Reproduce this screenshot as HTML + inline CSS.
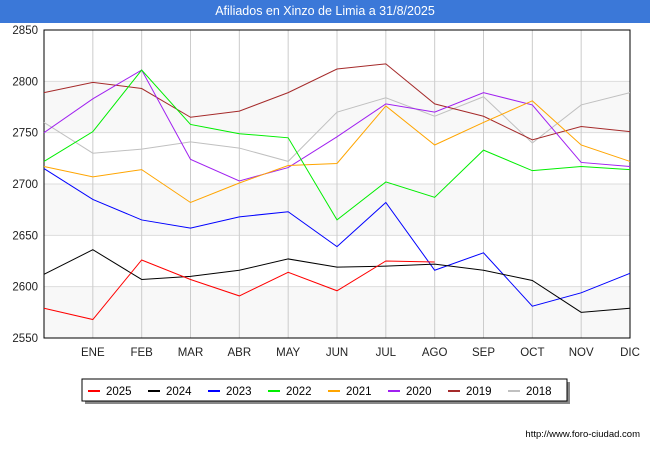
<!DOCTYPE html>
<html><head><meta charset="utf-8"><style>
body{margin:0;background:#fff;font-family:"Liberation Sans",sans-serif}
#t{position:absolute;left:0;top:0;width:650px;height:23px;background:#3b78d8;color:#fff;font-size:12.5px;text-align:center;line-height:23px}
</style></head><body>
<div id="t">Afiliados en Xinzo de Limia a 31/8/2025</div>
<svg id="c" width="650" height="450" style="position:absolute;left:0;top:0"></svg>
<script>
const months=["","ENE","FEB","MAR","ABR","MAY","JUN","JUL","AGO","SEP","OCT","NOV","DIC"];
const yTicks=[2550,2600,2650,2700,2750,2800,2850];
const seriesNames=["2025","2024","2023","2022","2021","2020","2019","2018"];
const seriesColors=["#ff0000","#000000","#0000ff","#00ee00","#ffa500","#a020f0","#a52a2a","#c0c0c0"];
const s2025=[2579,2568,2626,2607,2591,2614,2596,2625,2624];
const s2024=[2612,2636,2607,2610,2616,2627,2619,2620,2622,2616,2606,2575,2579];
const s2023=[2715,2685,2665,2657,2668,2673,2639,2682,2616,2633,2581,2594,2613];
const s2022=[2722,2751,2811,2758,2749,2745,2665,2702,2687,2733,2713,2717,2714];
const s2021=[2717,2707,2714,2682,2701,2718,2720,2776,2738,2760,2781,2738,2722];
const s2020=[2750,2783,2811,2724,2703,2716,2746,2778,2770,2789,2777,2721,2717];
const s2019=[2789,2799,2793,2765,2771,2789,2812,2817,2778,2766,2743,2756,2751];
const s2018=[2760,2730,2734,2741,2735,2722,2770,2784,2766,2785,2740,2777,2789];
const allSeries=[s2025,s2024,s2023,s2022,s2021,s2020,s2019,s2018];
const L=44,R=630,T=30,B=338,ymin=2550,ymax=2850;
const X=i=>L+(R-L)*i/(months.length-1);
const Y=v=>B-(v-ymin)/(ymax-ymin)*(B-T);
const svg=document.getElementById('c');const NS="http://www.w3.org/2000/svg";
function mk(tag,a,p){const e=document.createElementNS(NS,tag);for(const k in a)e.setAttribute(k,a[k]);(p||svg).appendChild(e);return e;}
for(let i=0;i<yTicks.length-1;i++){if(i%2==0){const r=mk('rect',{x:L,y:Y(yTicks[i+1]),width:R-L,height:Y(yTicks[i])-Y(yTicks[i+1]),fill:'#f8f8f8'});}}
yTicks.forEach(v=>{const l=mk('line',{x1:L,x2:R,y1:Y(v),y2:Y(v),stroke:'#dddddd'});
const t=mk('text',{x:L-6,y:Y(v)+4,'text-anchor':'end','font-size':11.5,fill:'#222'});t.textContent=v;});
months.forEach((m,i)=>{if(i>0){const l=mk('line',{x1:X(i),x2:X(i),y1:T,y2:B,stroke:'#cccccc'});
const t=mk('text',{x:X(i),y:B+18,'text-anchor':'middle','font-size':11.5,fill:'#222'});t.textContent=m;}});
const ax=mk('rect',{x:L,y:T,width:R-L,height:B-T,fill:'none',stroke:'#000'});
for(let s=allSeries.length-1;s>=0;s--){const d=allSeries[s];const p=mk('polyline',{points:d.map((v,i)=>X(i)+','+Y(v)).join(' '),fill:'none',stroke:seriesColors[s],'stroke-width':1});
}
const sh=mk('rect',{x:85,y:382,width:485,height:22,fill:'#888'});
const lg=mk('rect',{x:82,y:379,width:485,height:22,fill:'#fff',stroke:'#000'});
seriesNames.forEach((n,i)=>{const x0=88+i*60;const l=mk('line',{x1:x0,x2:x0+12,y1:391,y2:391,stroke:seriesColors[i],'stroke-width':2});
const t=mk('text',{x:x0+18,y:395,'font-size':11.5,fill:'#000'});t.textContent=n;});
const u=mk('text',{x:640,y:437,'text-anchor':'end','font-size':9.5,fill:'#000'});u.textContent='http://www.foro-ciudad.com';
</script></body></html>
